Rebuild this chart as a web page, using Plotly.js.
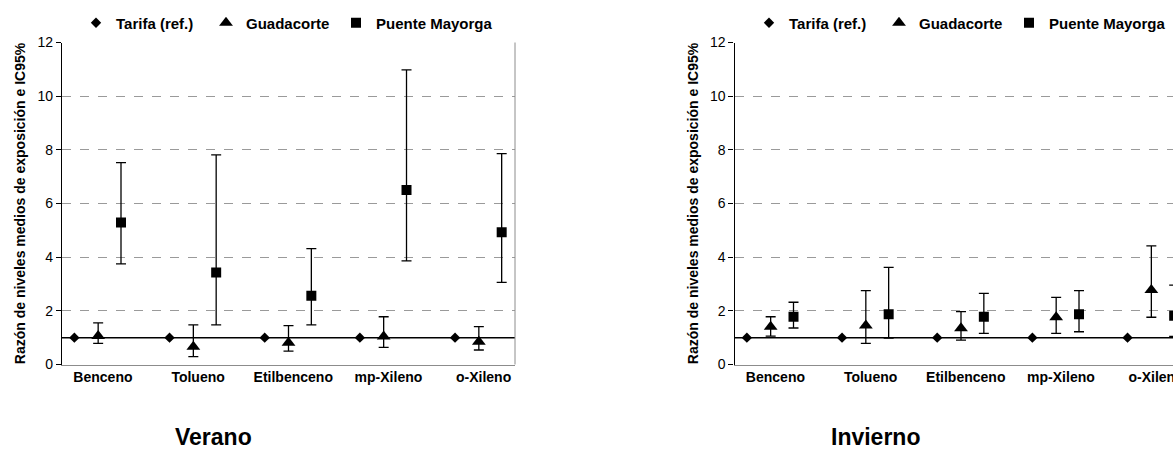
<!DOCTYPE html>
<html>
<head>
<meta charset="utf-8">
<script src="https://cdn.plot.ly/plotly-3.0.1.min.js"></script>
<style>
  html, body { margin: 0; padding: 0; overflow: hidden; background: #fff; }
  #chart { width: 1200px; height: 452px; }
</style>
</head>
<body>
<div id="chart"></div>
<script>
// ---- data ----
const categories = ['Benceno', 'Tolueno', 'Etilbenceno', 'mp-Xileno', 'o-Xileno'];
const seriesNames = ['Tarifa (ref.)', 'Guadacorte', 'Puente Mayorga'];
const yTicks = [0, 2, 4, 6, 8, 10, 12];

// Verano (summer)
const veranoTarifa = [1, 1, 1, 1, 1];
const veranoGuadacorte = [1.06, 0.66, 0.81, 1.04, 0.85];
const veranoGuadacorteLow = [0.79, 0.29, 0.50, 0.64, 0.54];
const veranoGuadacorteHigh = [1.55, 1.48, 1.45, 1.78, 1.41];
const veranoPuente = [5.29, 3.43, 2.56, 6.50, 4.93];
const veranoPuenteLow = [3.75, 1.48, 1.48, 3.86, 3.06];
const veranoPuenteHigh = [7.52, 7.81, 4.32, 10.98, 7.86];

// Invierno (winter)
const inviernoTarifa = [1, 1, 1, 1, 1];
const inviernoGuadacorte = [1.41, 1.45, 1.35, 1.76, 2.78];
const inviernoGuadacorteLow = [1.06, 0.79, 0.91, 1.16, 1.76];
const inviernoGuadacorteHigh = [1.78, 2.75, 1.97, 2.50, 4.42];
const inviernoPuente = [1.78, 1.87, 1.78, 1.87, 1.82];
const inviernoPuenteLow = [1.36, 0.98, 1.16, 1.22, 1.05];
const inviernoPuenteHigh = [2.32, 3.62, 2.65, 2.75, 2.96];

const panelTitles = ['Verano', 'Invierno'];
const yTitle = 'Razón de niveles medios de exposición e IC95%';

// ---- styling ----
const FONT = 'Liberation Sans, Arial, sans-serif';
const W = 1200, H = 452;
const offsets = [0, 0.25, 0.49];          // position of each station within a category
const symbols = ['diamond', 'triangle-up', 'square'];
const sizes = [8, 12, 10];
const legendWidths = [85, 85, 130];
const idx = categories.map((_, i) => i);

function errTrace(vals, lo, hi) {
  return {
    type: 'data', symmetric: false,
    array: vals.map((v, i) => +(hi[i] - v).toFixed(3)),
    arrayminus: vals.map((v, i) => +(v - lo[i]).toFixed(3)),
    color: '#000', thickness: 1.3, width: 5
  };
}

function panelTraces(vals, xa, ya, legendName) {
  return vals.map((s, k) => {
    const t = {
      type: 'scatter', mode: 'markers',
      name: seriesNames[k],
      x: idx.map(i => i + offsets[k]),
      y: s.v,
      xaxis: xa, yaxis: ya,
      legend: legendName,
      legendwidth: legendWidths[k],
      marker: { symbol: symbols[k], size: sizes[k], color: '#000', line: { width: 0 } },
      hoverinfo: 'x+y'
    };
    if (s.lo) t.error_y = errTrace(s.v, s.lo, s.hi);
    return t;
  });
}

const traces = [
  ...panelTraces([
    { v: veranoTarifa },
    { v: veranoGuadacorte, lo: veranoGuadacorteLow, hi: veranoGuadacorteHigh },
    { v: veranoPuente, lo: veranoPuenteLow, hi: veranoPuenteHigh }
  ], 'x', 'y', 'legend'),
  ...panelTraces([
    { v: inviernoTarifa },
    { v: inviernoGuadacorte, lo: inviernoGuadacorteLow, hi: inviernoGuadacorteHigh },
    { v: inviernoPuente, lo: inviernoPuenteLow, hi: inviernoPuenteHigh }
  ], 'x2', 'y2', 'legend2')
];

const yDomain = [(H - 364.5) / H, (H - 42.5) / H];
const xRange = [-0.13, 4.63];

function xAxis(d0, d1, anchor) {
  return {
    domain: [d0 / W, d1 / W], anchor: anchor,
    range: xRange,
    tickmode: 'array',
    tickvals: idx.map(i => i + 0.3),
    ticktext: categories,
    ticks: '', showgrid: false, zeroline: false,
    showline: true, linecolor: '#8c8c8c', linewidth: 1,
    tickfont: { family: FONT, size: 14, color: '#000', weight: 'bold' },
    fixedrange: true
  };
}
function yAxis(anchor) {
  return {
    domain: yDomain, anchor: anchor,
    range: [0, 12], tickmode: 'array', tickvals: yTicks,
    ticks: 'outside', ticklen: 5, tickcolor: '#000', tickwidth: 1,
    showline: true, linecolor: '#000', linewidth: 1.4,
    showgrid: true, gridcolor: '#9a9a9a', griddash: 'dash', gridwidth: 1,
    zeroline: false,
    tickfont: { family: FONT, size: 14, color: '#000' },
    title: { text: yTitle, font: { family: FONT, size: 14, color: '#000', weight: 'bold' }, standoff: 8 },
    fixedrange: true
  };
}

function refShapes(xa, ya) {
  return [
    { type: 'line', xref: xa + ' domain', x0: 0, x1: 1, yref: ya, y0: 1, y1: 1,
      line: { color: '#000', width: 1.5 }, layer: 'below' },
    { type: 'line', xref: xa + ' domain', x0: 1, x1: 1, yref: ya + ' domain', y0: 0, y1: 1,
      line: { color: '#8c8c8c', width: 1 } }
  ];
}

function legendBox(left) {
  return {
    orientation: 'h', x: left / W, xanchor: 'left', y: 1 - 23 / H, yanchor: 'middle',
    font: { family: FONT, size: 15, color: '#000', weight: 'bold' },
    bgcolor: 'rgba(0,0,0,0)', itemclick: false, itemdoubleclick: false
  };
}

const layout = {
  width: W, height: H,
  margin: { l: 0, r: 0, t: 0, b: 0 },
  paper_bgcolor: '#fff', plot_bgcolor: '#fff',
  font: { family: FONT, color: '#000' },
  showlegend: true,
  xaxis: xAxis(62, 515, 'y'),
  yaxis: yAxis('x'),
  xaxis2: xAxis(734.5, 1187.5, 'y2'),
  yaxis2: yAxis('x2'),
  legend: legendBox(76),
  legend2: legendBox(749),
  shapes: [...refShapes('x', 'y'), ...refShapes('x2', 'y2')],
  annotations: [
    { text: panelTitles[0], xref: 'paper', yref: 'paper', x: 213 / W, y: 0,
      xanchor: 'center', yanchor: 'bottom', showarrow: false,
      font: { family: FONT, size: 23, color: '#000', weight: 'bold' } },
    { text: panelTitles[1], xref: 'paper', yref: 'paper', x: 875 / W, y: 0,
      xanchor: 'center', yanchor: 'bottom', showarrow: false,
      font: { family: FONT, size: 23, color: '#000', weight: 'bold' } }
  ],
  hovermode: 'closest'
};

Plotly.newPlot('chart', traces, layout, { displayModeBar: false, staticPlot: false });
</script>
</body>
</html>
